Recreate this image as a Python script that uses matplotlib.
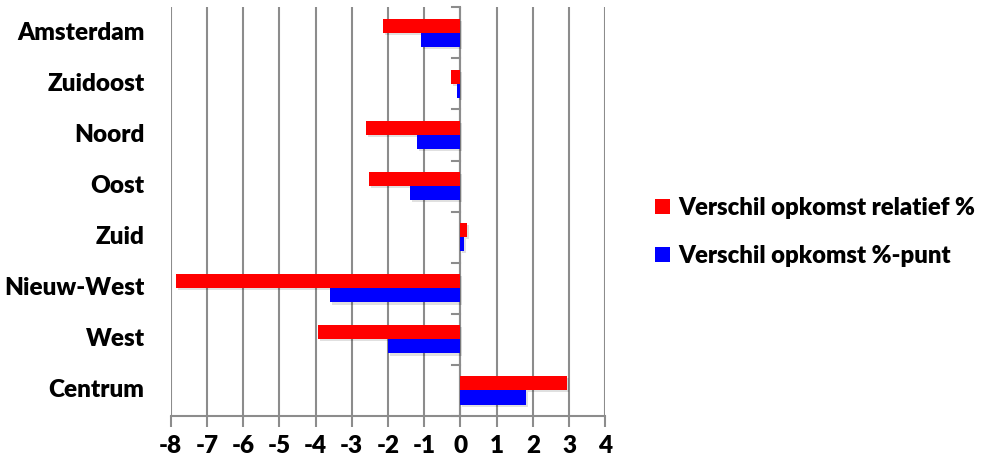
import matplotlib
matplotlib.use("Agg")
import matplotlib.pyplot as plt
import matplotlib.patheffects as pe
from matplotlib.patches import Patch
import numpy as np

plt.rcParams['font.family'] = ['Lato', 'DejaVu Sans']

categories = ["Amsterdam", "Zuidoost", "Noord", "Oost", "Zuid", "Nieuw-West", "West", "Centrum"]
relatief = [-2.13, -0.25, -2.62, -2.52, 0.18, -7.85, -3.93, 2.95]
procentpunt = [-1.09, -0.09, -1.19, -1.39, 0.10, -3.60, -2.00, 1.82]
series_names = ["Verschil opkomst relatief %", "Verschil opkomst %-punt"]
xticks = list(range(-8, 5))

fig = plt.figure(figsize=(9.81, 4.63), dpi=100)
ax = fig.add_axes([0.174, 0.102, 0.443, 0.882])

n = len(categories)
y = np.arange(n)[::-1].astype(float)
h = 0.28
shadow = [pe.SimplePatchShadow(offset=(1.5, -1.5), shadow_rgbFace=(0, 0, 0), alpha=0.12), pe.Normal()]
b1 = ax.barh(y + h / 2, relatief, height=h, color="#ff0000", zorder=3)
b2 = ax.barh(y - h / 2, procentpunt, height=h, color="#0000ff", zorder=3)
for b in list(b1) + list(b2):
    b.set_path_effects(shadow)

ax.set_xlim(-8, 4)
ax.set_ylim(-0.5, n - 0.5)
ax.set_xticks(xticks)
ax.set_xticklabels([str(t) for t in xticks])
for lbl in ax.get_xticklabels():
    lbl.set_fontsize(17.5)
    lbl.set_fontweight("heavy")
ax.grid(axis="x", color="#8c8c8c", linewidth=1.5, zorder=0)
ax.set_yticks([])

for s in ["top", "right", "left"]:
    ax.spines[s].set_visible(False)
ax.spines["bottom"].set_color("#8c8c8c")
ax.spines["bottom"].set_linewidth(1.5)
ax.tick_params(axis="x", length=8, width=1.5, color="#8c8c8c", pad=6)

# vertical axis at zero with category separators
ax.axvline(0, color="#8c8c8c", linewidth=1.5, zorder=2)
for yb in np.arange(n + 1) - 0.5:
    ax.plot([-0.22, 0], [yb, yb], color="#8c8c8c", linewidth=1.5, zorder=2, clip_on=False)

for yi, name in zip(y, categories):
    ax.text(-8.72, yi, name, ha="right", va="center", fontsize=17.5, fontweight="heavy")

handles = [Patch(facecolor="#ff0000"), Patch(facecolor="#0000ff")]
fig.legend(handles, series_names, loc="center left", bbox_to_anchor=(0.646, 0.499),
           frameon=False, prop={"size": 17.2, "weight": "heavy"},
           handlelength=0.6, handleheight=0.6, handletextpad=0.35, labelspacing=1.1)

fig.savefig("out.png", dpi=100)
